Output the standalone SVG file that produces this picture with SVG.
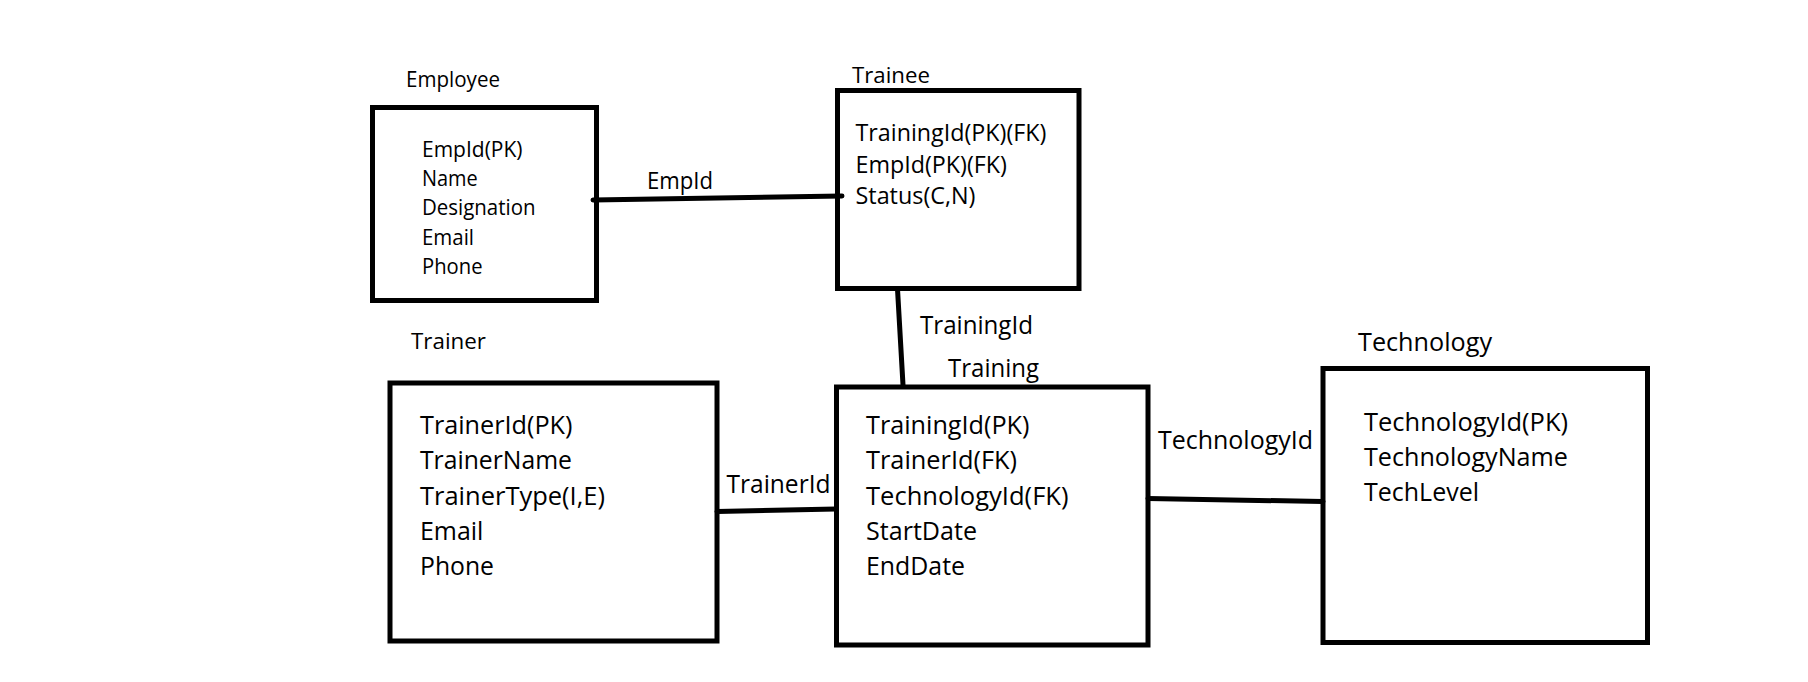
<svg xmlns="http://www.w3.org/2000/svg" width="1808" height="682" viewBox="0 0 1808 682">
  <style>
    text { font-family: "Open Sans", "Liberation Sans", sans-serif; fill: #000; }
    .box { fill: none; stroke: #000; stroke-width: 5; stroke-linejoin: miter; }
    .conn { fill: none; stroke: #000; stroke-width: 5; stroke-linecap: round; }
    .t1 { font-size: 21px; }
    .t2 { font-size: 22.5px; }
    .t3 { font-size: 25px; }
    .a1 { font-size: 21.2px; }
    .a2 { font-size: 23.4px; }
    .a3 { font-size: 25.7px; }
  </style>
  <rect x="0" y="0" width="1808" height="682" fill="#fff"/>

  <g id="connectors">
    <line class="conn" x1="593" y1="200" x2="842" y2="196"/>
    <line class="conn" x1="897.5" y1="289" x2="903" y2="385"/>
    <line class="conn" x1="717" y1="511.5" x2="836" y2="509"/>
    <line class="conn" x1="1148" y1="498.5" x2="1323" y2="501.5"/>
    <text class="t3" style="font-size:23.2px" x="647" y="188.5" textLength="66" lengthAdjust="spacingAndGlyphs">EmpId</text>
    <text class="t3" style="font-size:24.8px" x="920" y="333.5" textLength="113" lengthAdjust="spacingAndGlyphs">TrainingId</text>
    <text class="t3" style="font-size:25.2px" x="726.5" y="493" textLength="104" lengthAdjust="spacingAndGlyphs">TrainerId</text>
    <text class="t3" style="font-size:25.6px" x="1158" y="448.5" textLength="155" lengthAdjust="spacingAndGlyphs">TechnologyId</text>
  </g>

  <g id="employee">
    <text class="t1" x="406" y="87" textLength="94" lengthAdjust="spacingAndGlyphs">Employee</text>
    <rect class="box" x="372.5" y="107.5" width="224" height="193"/>
    <text class="a1" x="422" y="157" textLength="100.5" lengthAdjust="spacingAndGlyphs">EmpId(PK)</text>
    <text class="a1" x="422" y="186.2" textLength="55.7" lengthAdjust="spacingAndGlyphs">Name</text>
    <text class="a1" x="422" y="215.4" textLength="113.5" lengthAdjust="spacingAndGlyphs">Designation</text>
    <text class="a1" x="422" y="244.6" textLength="52" lengthAdjust="spacingAndGlyphs">Email</text>
    <text class="a1" x="422" y="273.8" textLength="60.5" lengthAdjust="spacingAndGlyphs">Phone</text>
  </g>

  <g id="trainee">
    <text class="t2" x="852" y="83" textLength="78" lengthAdjust="spacingAndGlyphs">Trainee</text>
    <rect class="box" x="837.5" y="90.5" width="241.5" height="198"/>
    <text class="a2" x="855.5" y="141" textLength="191" lengthAdjust="spacingAndGlyphs">TrainingId(PK)(FK)</text>
    <text class="a2" x="855.5" y="172.5" textLength="151.5" lengthAdjust="spacingAndGlyphs">EmpId(PK)(FK)</text>
    <text class="a2" x="855.5" y="204" textLength="120" lengthAdjust="spacingAndGlyphs">Status(C,N)</text>
  </g>

  <g id="trainer">
    <text class="t2" x="411" y="348.5" textLength="75" lengthAdjust="spacingAndGlyphs">Trainer</text>
    <rect class="box" x="390" y="383" width="327" height="258"/>
    <text class="a3" x="420" y="434" textLength="152.5" lengthAdjust="spacingAndGlyphs">TrainerId(PK)</text>
    <text class="a3" x="420" y="469.3" textLength="152" lengthAdjust="spacingAndGlyphs">TrainerName</text>
    <text class="a3" x="420" y="504.6" textLength="185" lengthAdjust="spacingAndGlyphs">TrainerType(I,E)</text>
    <text class="a3" x="420" y="539.9" textLength="63.4" lengthAdjust="spacingAndGlyphs">Email</text>
    <text class="a3" x="420" y="575.2" textLength="74" lengthAdjust="spacingAndGlyphs">Phone</text>
  </g>

  <g id="training">
    <text class="t3" style="font-size:24.7px" x="948" y="377" textLength="91" lengthAdjust="spacingAndGlyphs">Training</text>
    <rect class="box" x="836.5" y="387" width="311.5" height="258"/>
    <text class="a3" x="866" y="434" textLength="163.5" lengthAdjust="spacingAndGlyphs">TrainingId(PK)</text>
    <text class="a3" x="866" y="469.3" textLength="151" lengthAdjust="spacingAndGlyphs">TrainerId(FK)</text>
    <text class="a3" x="866" y="504.6" textLength="202.5" lengthAdjust="spacingAndGlyphs">TechnologyId(FK)</text>
    <text class="a3" x="866" y="539.9" textLength="111" lengthAdjust="spacingAndGlyphs">StartDate</text>
    <text class="a3" x="866" y="575.2" textLength="99" lengthAdjust="spacingAndGlyphs">EndDate</text>
  </g>

  <g id="technology">
    <text class="t3" style="font-size:25.8px" x="1358" y="350.5" textLength="134" lengthAdjust="spacingAndGlyphs">Technology</text>
    <rect class="box" x="1323" y="368.5" width="324.5" height="274"/>
    <text class="a3" x="1364" y="431" textLength="204" lengthAdjust="spacingAndGlyphs">TechnologyId(PK)</text>
    <text class="a3" x="1364" y="466" textLength="204" lengthAdjust="spacingAndGlyphs">TechnologyName</text>
    <text class="a3" x="1364" y="501" textLength="115" lengthAdjust="spacingAndGlyphs">TechLevel</text>
  </g>
</svg>
